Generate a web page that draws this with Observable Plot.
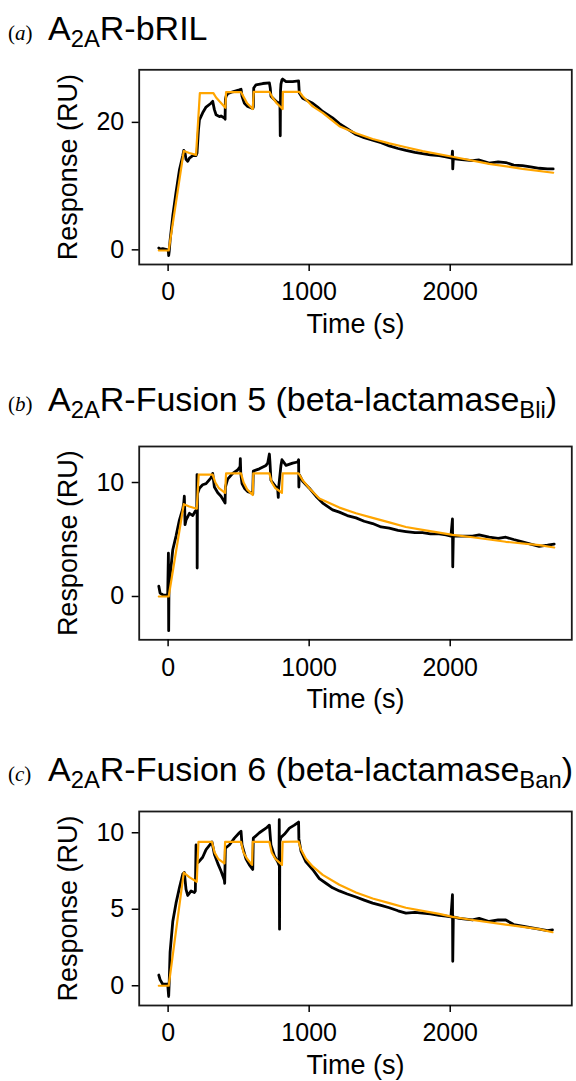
<!DOCTYPE html>
<html>
<head>
<meta charset="utf-8">
<script src="https://cdn.jsdelivr.net/npm/d3@7"></script>
<script src="https://cdn.jsdelivr.net/npm/@observablehq/plot@0.6"></script>
<style>
html, body { margin: 0; padding: 0; background: #fff; }
#fig { position: relative; width: 576px; height: 1081px; overflow: hidden; font-family: "Liberation Sans", Arial, sans-serif; color: #000; }
.title { position: absolute; left: 8px; height: 34px; line-height: 34px; font-size: 34px; white-space: nowrap; }
.tag { display: inline-block; width: 40px; font-family: "Liberation Serif", "Times New Roman", serif; font-size: 21px; }
.main sub { font-size: 0.7em; vertical-align: -0.28em; line-height: 0; }
.panel { position: absolute; left: 0; }
</style>
</head>
<body>
<div id="fig">
  <div class="panel" id="pa" style="top:50px"></div>
  <div class="panel" id="pb" style="top:430px"></div>
  <div class="panel" id="pc" style="top:795px"></div>
  <div class="title" style="top:11px"><span class="tag">(<i>a</i>)</span><span class="main">A<sub>2A</sub>R-bRIL</span></div>
  <div class="title" style="top:382px"><span class="tag">(<i>b</i>)</span><span class="main">A<sub>2A</sub>R-Fusion 5 (beta-lactamase<sub>Bli</sub>)</span></div>
  <div class="title" style="top:752px"><span class="tag">(<i>c</i>)</span><span class="main">A<sub>2A</sub>R-Fusion 6 (beta-lactamase<sub>Ban</sub>)</span></div>
</div>
<script>
// ---- shared axis values ----
const xDomain = [-205, 2862];
const xTicks = [0, 1000, 2000];
const xLabel = "Time (s)";
const yLabel = "Response (RU)";

// ---- panel (a): A2AR-bRIL ----
const aTime = [-66,-57,-38,-3,2,4,8,14,33,56,80,104,111,120,127,139,151,163,175,198,205,215,222,245,269,304,316,328,340,364,375,399,404,406,411,422,458,505,517,524,541,564,600,604,607,623,671,718,724,729,765,788,793,795,797,800,807,812,836,883,925,930,954,989,1025,1060,1096,1166,1214,1270,1332,1390,1450,1510,1568,1630,1686,1750,1804,1860,1922,1970,2012,2016,2018,2022,2064,2158,2205,2276,2340,2394,2450,2512,2570,2631,2690,2730];
const aResp = [0.3,0.1,0.2,0.0,-0.3,-0.9,-0.2,1.5,5.3,9.0,12.5,14.8,15.6,15.2,14.2,13.9,14.4,14.6,14.8,14.8,15.2,18.8,20.4,21.5,22.4,23.0,23.3,22.0,21.2,20.9,21.0,20.7,20.5,23.6,24.1,24.5,24.8,25.1,25.2,24.1,23.0,22.5,22.2,22.4,25.4,25.9,26.1,26.2,25.4,24.1,23.3,23.0,22.8,17.9,25.0,26.0,26.7,26.8,26.4,26.4,26.5,24.6,23.8,23.4,23.0,22.4,21.7,20.7,19.8,19.0,18.1,17.6,17.2,16.8,16.3,15.9,15.6,15.3,15.1,14.9,14.8,14.6,14.4,15.5,12.7,14.3,14.2,14.0,14.1,13.6,13.8,13.7,13.3,13.2,13.0,12.8,12.7,12.7];
const aFitTime = [-66,4,111,150,198,225,321,340,364,406,411,517,535,560,600,607,718,740,770,812,814,930,954,989,1025,1096,1214,1332,1450,1568,1686,1804,2016,2276,2513,2730];
const aFitResp = [-0.1,-0.1,15.5,15.2,14.9,24.6,24.6,23.9,23.3,22.3,24.75,24.75,24.0,23.0,22.1,24.8,24.8,23.9,23.0,22.1,24.8,24.8,24.1,23.3,22.5,21.5,19.4,18.3,17.4,16.7,16.1,15.5,14.6,13.5,12.7,12.1];
const aYDomain = [-2.3, 28.25];
const aYTicks = [0, 20];

// ---- panel (b): A2AR-Fusion 5 ----
const bTime = [-66,-57,-38,-3,2,4,6,14,33,56,80,104,111,115,118,120,127,151,175,193,203,205,206,208,222,245,269,304,316,328,352,375,399,404,406,422,458,493,505,510,512,515,524,541,564,588,600,604,647,694,706,718,722,729,753,777,781,784,800,807,836,883,918,925,927,930,954,1001,1048,1096,1166,1214,1270,1332,1390,1450,1510,1568,1630,1686,1750,1804,1860,1922,1970,2005,2016,2018,2022,2064,2158,2205,2276,2340,2394,2450,2512,2570,2631,2690,2737];
const bResp = [0.9,0.3,0.15,0.1,3.8,-3.0,0.5,1.8,4.1,5.3,6.7,7.7,8.2,8.8,7.5,6.3,6.7,7.3,7.1,7.5,7.6,10.7,2.5,9.0,9.5,9.8,9.9,10.4,10.8,9.6,9.1,8.8,8.3,8.2,9.6,10.3,10.8,11.1,11.3,11.4,12.1,10.8,9.9,9.5,9.2,9.1,9.0,11.0,11.2,11.5,11.7,12.5,11.8,10.2,9.8,9.4,8.7,9.6,11.5,12.0,11.5,11.7,11.8,12.0,9.6,10.7,10.1,9.5,8.8,8.2,7.6,7.4,7.1,6.9,6.6,6.4,6.1,6.0,5.8,5.7,5.6,5.6,5.5,5.5,5.4,5.3,6.8,2.6,5.3,5.3,5.3,5.4,5.2,5.1,5.2,5.0,4.8,4.6,4.4,4.5,4.6];
const bFitTime = [-66,4,111,150,203,217,316,335,360,404,411,517,535,560,600,604,718,735,760,807,812,925,954,1001,1072,1214,1332,1450,1568,1686,1804,1922,2016,2158,2394,2631,2737];
const bFitResp = [0,0,8.1,7.9,7.7,10.7,10.7,10.0,9.5,9.1,10.8,10.8,10.0,9.4,8.9,10.8,10.8,10.0,9.5,9.1,10.8,10.8,10.2,9.5,8.6,7.8,7.3,6.9,6.5,6.1,5.85,5.6,5.4,5.2,4.8,4.5,4.3];
const bYDomain = [-3.8, 13.16];
const bYTicks = [0, 10];

// ---- panel (c): A2AR-Fusion 6 ----
const cTime = [-66,-57,-38,-3,4,8,14,33,56,80,104,115,127,139,163,186,193,198,203,217,245,269,304,311,328,352,375,399,401,406,434,470,505,517,524,552,576,600,604,647,694,718,729,753,777,786,788,790,792,800,824,860,895,925,927,942,977,1025,1072,1119,1166,1214,1270,1332,1390,1450,1510,1568,1630,1686,1750,1804,1860,1922,1970,2005,2016,2018,2022,2064,2158,2205,2276,2340,2394,2450,2512,2570,2631,2690,2725];
const cResp = [0.7,0.4,0.1,0.1,-0.7,0.3,2.2,4.2,5.4,6.4,7.3,7.4,6.3,5.9,6.2,6.1,6.2,9.2,8.0,8.1,8.4,8.9,9.3,9.4,8.6,8.0,7.5,6.9,6.7,9.0,9.2,9.65,10.0,10.1,9.2,8.3,7.9,7.6,9.65,10.0,10.3,10.5,9.2,8.5,8.1,7.9,10.85,3.7,9.4,9.7,9.9,10.3,10.5,10.7,9.6,8.8,8.1,7.6,7.0,6.7,6.4,6.2,6.0,5.8,5.6,5.4,5.25,5.1,4.9,4.75,4.8,4.75,4.7,4.6,4.55,4.5,5.95,1.6,4.5,4.4,4.3,4.4,4.2,4.3,4.3,4.0,3.9,3.8,3.7,3.6,3.65];
const cFitTime = [-66,4,111,150,203,215,311,330,355,399,404,517,535,560,595,600,718,735,760,807,812,925,942,977,1025,1096,1214,1332,1450,1568,1686,1804,1922,2016,2158,2394,2631,2725];
const cFitResp = [0,0,7.4,7.1,6.8,9.4,9.4,8.7,8.3,8.0,9.4,9.4,8.7,8.3,7.9,9.4,9.4,8.7,8.3,7.9,9.4,9.43,8.9,8.3,7.8,7.25,6.6,6.1,5.7,5.4,5.1,4.9,4.7,4.5,4.3,4.0,3.7,3.5];
const cYDomain = [-1.29, 11.39];
const cYTicks = [0, 5, 10];

const fontFamily = '"Liberation Sans", Arial, sans-serif';

function panel(time, resp, fitTime, fitResp, yDomain, yTicks, marginTop, innerHeight, marginBottom) {
  const observed = time.map((t, i) => ({t, r: resp[i]}));
  const fitted = fitTime.map((t, i) => ({t, r: fitResp[i]}));
  return Plot.plot({
    width: 576,
    height: marginTop + innerHeight + marginBottom,
    marginLeft: 138.7,
    marginRight: 4.7,
    marginTop,
    marginBottom,
    style: {fontFamily, background: "transparent", overflow: "visible", color: "#000"},
    x: {domain: xDomain},
    y: {domain: yDomain},
    marks: [
      Plot.line(observed, {x: "t", y: "r", stroke: "#000", strokeWidth: 2.8, strokeLinejoin: "round"}),
      Plot.line(fitted, {x: "t", y: "r", stroke: "#FFA500", strokeWidth: 2.2, strokeLinejoin: "round"}),
      Plot.frame({stroke: "#1a1a1a", strokeWidth: 1.8}),
      Plot.axisX({ticks: xTicks, tickFormat: d3.format("d"), tickSize: 7, tickPadding: 11, fontSize: 25, label: null, strokeWidth: 1.5}),
      Plot.axisY({ticks: yTicks, tickFormat: d3.format("d"), tickSize: 7, tickPadding: 8, fontSize: 25, label: null, strokeWidth: 1.5}),
      Plot.text([yLabel], {text: d => d, frameAnchor: "left", textAnchor: "middle", rotate: -90, dx: -70.7, fontSize: 27, lineAnchor: "middle"}),
      Plot.text([xLabel], {text: d => d, frameAnchor: "bottom", textAnchor: "middle", dy: 60, fontSize: 27, lineAnchor: "middle"})
    ]
  });
}

document.getElementById("pa").append(panel(aTime, aResp, aFitTime, aFitResp, aYDomain, aYTicks, 19.3, 194.7, 85));
document.getElementById("pb").append(panel(bTime, bResp, bFitTime, bFitResp, bYDomain, bYTicks, 16, 193.3, 85));
document.getElementById("pc").append(panel(cTime, cResp, cFitTime, cFitResp, cYDomain, cYTicks, 16, 194, 76));
</script>
</body>
</html>
